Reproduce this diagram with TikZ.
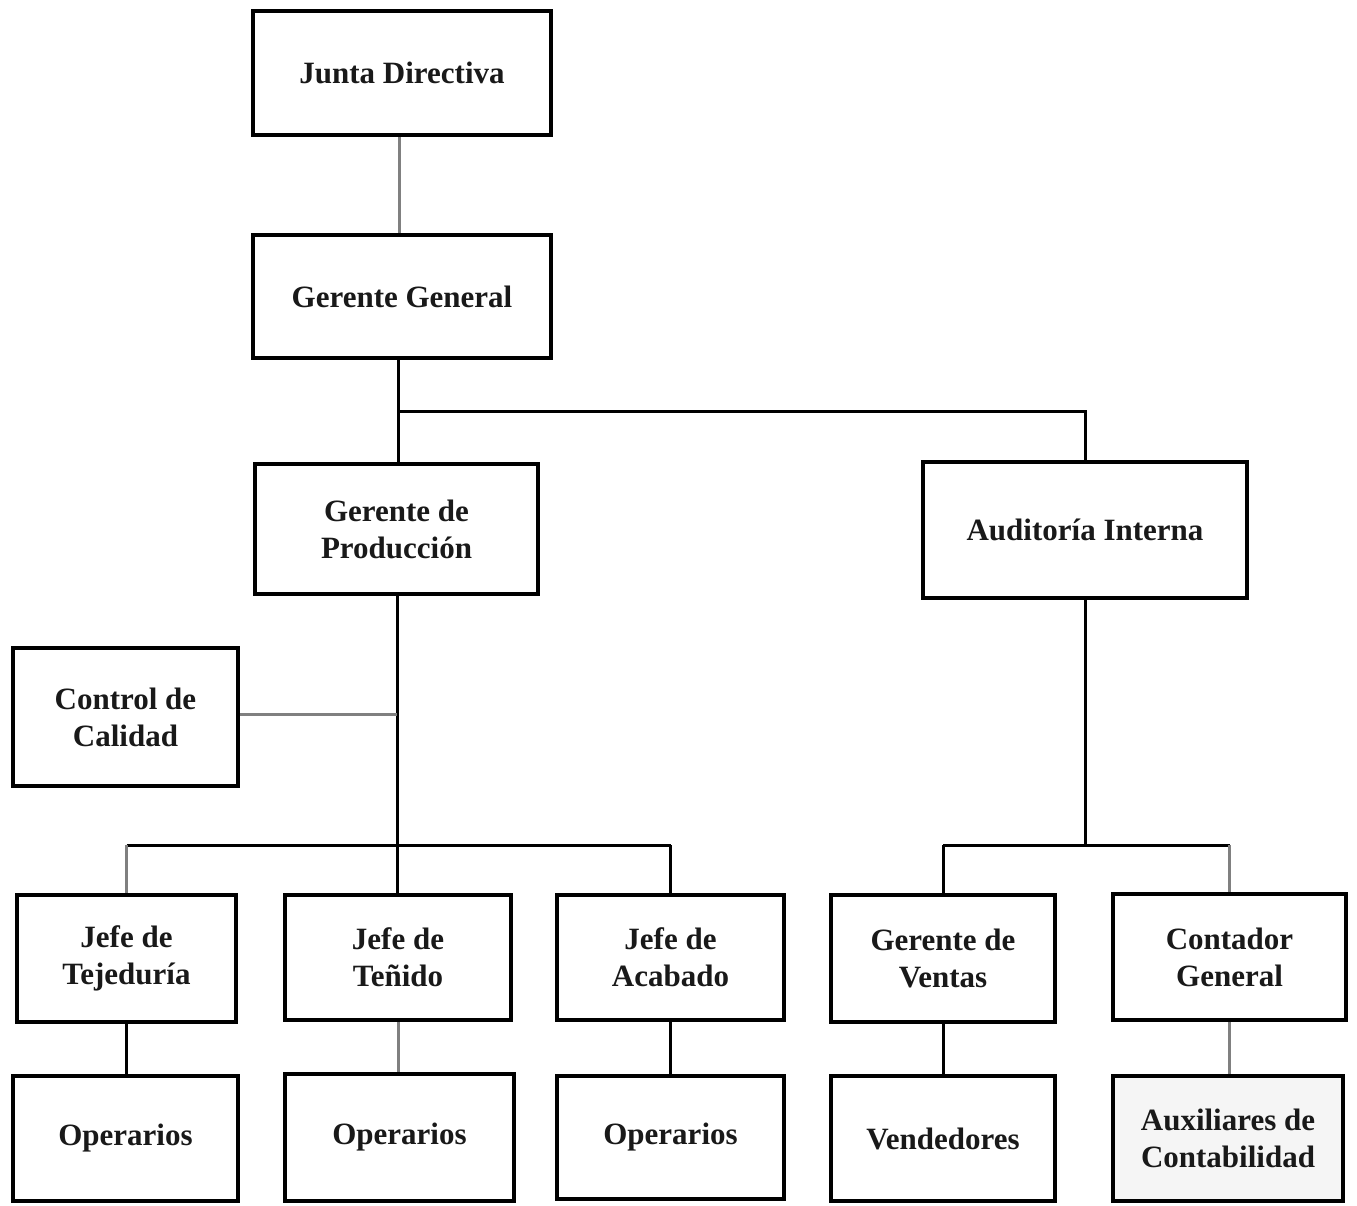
\documentclass[tikz,border=0pt]{standalone}
\usepackage{fontspec}
\setmainfont{Liberation Serif}
\begin{document}
\begin{tikzpicture}[x=1pt,y=-1pt,
  box/.style={draw=black, line width=4pt, fill=white, align=center, inner sep=0pt,
    font=\fontsize{31}{37}\selectfont\bfseries, text=black!90},
  conn/.style={line width=3pt, black},
  gconn/.style={line width=3pt, black!50}]
\useasboundingbox (0,0) rectangle (1357,1205);
% boxes
\node[box, minimum width=298, minimum height=124] (JD) at (402,73) {Junta Directiva};
\node[box, minimum width=298, minimum height=123] (GG) at (402,296.5) {Gerente General};
\node[box, minimum width=283, minimum height=130] (GP) at (396.5,529) {Gerente de\\Producción};
\node[box, minimum width=324, minimum height=136] (AI) at (1085,530) {Auditoría Interna};
\node[box, minimum width=225, minimum height=138] (CC) at (125.5,717) {Control de\\Calidad};
\node[box, minimum width=219, minimum height=127] (JT) at (126.5,958.5) {Jefe de\\Tejeduría};
\node[box, minimum width=226, minimum height=125] (JTe) at (398,957.5) {Jefe de\\Teñido};
\node[box, minimum width=227, minimum height=125] (JA) at (670.5,957.5) {Jefe de\\Acabado};
\node[box, minimum width=224, minimum height=127] (GV) at (943,958.5) {Gerente de\\Ventas};
\node[box, minimum width=233, minimum height=126] (CG) at (1229.5,957) {Contador\\General};
\node[box, minimum width=225, minimum height=125] (O1) at (125.5,1138.5) {Operarios};
\node[box, minimum width=229, minimum height=127] (O2) at (399.5,1137.5) {Operarios};
\node[box, minimum width=227, minimum height=123] (O3) at (670.5,1137.5) {Operarios};
\node[box, minimum width=224, minimum height=125] (V) at (943,1138.5) {Vendedores};
\node[box, minimum width=230, minimum height=125, fill=black!4] (AC) at (1228,1138.5) {Auxiliares de\\Contabilidad};
% junctions
\coordinate (j1) at (398,411);
\coordinate (j2) at (397,714);
\coordinate (b1) at (0,845);
% connectors
\begin{scope}[on background layer/.style={}]
\draw[gconn] ([xshift=-3pt]JD.south) -- ([xshift=-3pt]GG.north);
\draw[conn] (GG.south -| j1) -- (GP.north -| j1);
\draw[conn] (j1) -| (AI.north);
\draw[conn] (GP.south -| j2) -- (JTe.north -| j2);
\draw[gconn] (CC.east |- j2) -- (j2);
\draw[conn] (JT.north |- b1) -- (JA.north |- b1);
\draw[gconn] (JT.north |- b1) -- (JT.north);
\draw[conn] (JA.north |- b1) -- (JA.north);
\draw[conn] (AI.south) -- (AI.south |- b1);
\draw[conn] (GV.north |- b1) -- (CG.north |- b1);
\draw[conn] (GV.north |- b1) -- (GV.north);
\draw[gconn] (CG.north |- b1) -- (CG.north);
\draw[conn] (JT.south) -- (JT.south |- O1.north);
\draw[gconn] (JTe.south) -- (JTe.south |- O2.north);
\draw[conn] (JA.south) -- (JA.south |- O3.north);
\draw[conn] (GV.south) -- (V.north);
\draw[gconn] (CG.south) -- (CG.south |- AC.north);
\end{scope}
\end{tikzpicture}
\end{document}
